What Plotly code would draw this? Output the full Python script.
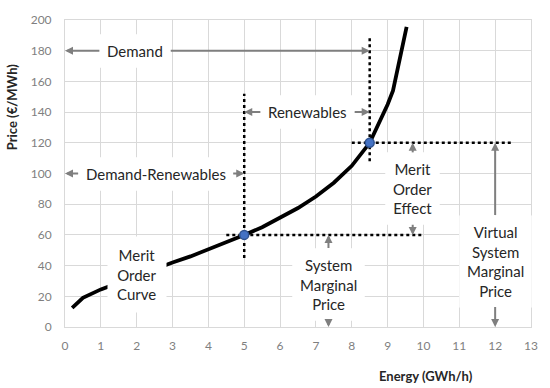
import plotly.graph_objects as go

# Merit order curve
energy = [0.2, 0.5, 1.0, 1.5, 2.0, 2.5, 3.0, 3.5, 4.0, 4.5, 5.0, 5.5, 6.0, 6.5, 7.0, 7.5, 8.0, 8.5, 9.0, 9.15, 9.53]
price = [12.5, 19, 24.5, 29, 33.5, 38, 42, 46, 50.5, 55, 60, 65, 71, 77.5, 85, 94, 105, 120, 145, 154, 195.5]

# Key points
demand_minus_renew = 5.0
demand = 8.5
smp = 60
vsmp = 120
points_x = [demand_minus_renew, demand]
points_y = [smp, vsmp]

# Dotted guide lines (x pairs, y pairs)
guide_v1_x = [demand, demand]
guide_v1_y = [108, 190]
guide_v2_x = [demand_minus_renew, demand_minus_renew]
guide_v2_y = [45, 152]
guide_h1_x = [4.5, 10.0]
guide_h1_y = [smp, smp]
guide_h2_x = [8.0, 12.5]
guide_h2_y = [vsmp, vsmp]

x_ticks = list(range(0, 14))
y_ticks = list(range(0, 201, 20))

FONT = "Lato"
TXT = "#262626"
GRID = "#d9d9d9"
ARROW = "#7f7f7f"

fig = go.Figure()

for gx, gy in [(guide_v1_x, guide_v1_y), (guide_v2_x, guide_v2_y),
               (guide_h1_x, guide_h1_y), (guide_h2_x, guide_h2_y)]:
    fig.add_trace(go.Scatter(x=gx, y=gy, mode="lines",
                             line=dict(color="black", width=2.5, dash="dot"),
                             hoverinfo="skip", showlegend=False))

fig.add_trace(go.Scatter(x=energy, y=price, mode="lines",
                         line=dict(color="black", width=3.8),
                         showlegend=False))

fig.add_trace(go.Scatter(x=points_x, y=points_y, mode="markers",
                         marker=dict(size=9, color="#4472C4",
                                     line=dict(color="#2F528F", width=1.5)),
                         showlegend=False))

annotations = []


def label_arrow(text, tx, ty, hx, hy):
    annotations.append(dict(
        x=hx, y=hy, ax=tx, ay=ty, axref="x", ayref="y", xref="x", yref="y",
        text=text, showarrow=True, arrowhead=2, arrowsize=0.8, arrowwidth=2,
        arrowcolor=ARROW, bgcolor="white", borderpad=7,
        font=dict(family=FONT, size=15, color=TXT)))


label_arrow("Demand", 1.96, 180, 0, 180)
label_arrow("Demand", 1.96, 180, demand, 180)
label_arrow("Renewables", 6.77, 140, demand_minus_renew, 140)
label_arrow("Renewables", 6.77, 140, demand, 140)
label_arrow("Demand-Renewables", 2.53, 100, 0, 100)
label_arrow("Demand-Renewables", 2.53, 100, demand_minus_renew, 100)
label_arrow("Merit<br>Order<br>Effect", 9.7, 90, 9.7, vsmp)
label_arrow("Merit<br>Order<br>Effect", 9.7, 90, 9.7, smp)
label_arrow("System<br>Marginal<br>Price", 7.35, 28, 7.35, smp)
label_arrow("System<br>Marginal<br>Price", 7.35, 28, 7.35, 0)
label_arrow("Virtual<br>System<br>Marginal<br>Price", 12, 43, 12, vsmp)
label_arrow("Virtual<br>System<br>Marginal<br>Price", 12, 43, 12, 0)

annotations.append(dict(x=2.0, y=34, xref="x", yref="y", text="Merit<br>Order<br>Curve",
                        showarrow=False, bgcolor="white", borderpad=9,
                        font=dict(family=FONT, size=15, color=TXT)))

annotations.append(dict(x=-0.113, y=0.717, xref="paper", yref="paper",
                        xanchor="center", yanchor="middle",
                        text="<b>Price (€/MWh)</b>", textangle=-90, showarrow=False,
                        font=dict(family=FONT, size=13, color=TXT)))
annotations.append(dict(x=0.7746, y=-0.159, xref="paper", yref="paper",
                        xanchor="center", yanchor="middle",
                        text="<b>Energy (GWh/h)</b>", showarrow=False,
                        font=dict(family=FONT, size=13, color=TXT)))

fig.update_layout(
    width=550, height=388,
    margin=dict(l=65, r=17, t=13, b=61),
    paper_bgcolor="white", plot_bgcolor="white",
    showlegend=False,
    annotations=annotations,
    font=dict(family=FONT),
)

fig.update_xaxes(range=[0, 13], tickvals=x_ticks, ticktext=[str(v) for v in x_ticks],
                 showgrid=True, gridcolor=GRID, gridwidth=1, zeroline=False,
                 showline=True, linecolor=GRID, linewidth=1, mirror=True,
                 ticks="", ticklabelstandoff=8,
                 tickfont=dict(family=FONT, size=12, color="#7f7f7f"))
fig.update_yaxes(range=[0, 200], tickvals=y_ticks, ticktext=[str(v) for v in y_ticks],
                 showgrid=True, gridcolor=GRID, gridwidth=1, zeroline=False,
                 showline=True, linecolor=GRID, linewidth=1, mirror=True,
                 ticks="", ticklabelstandoff=10,
                 tickfont=dict(family=FONT, size=12, color="#7f7f7f"))

fig.write_html("out.html", config={"displayModeBar": False},
               post_script="document.body.style.margin='0';")
